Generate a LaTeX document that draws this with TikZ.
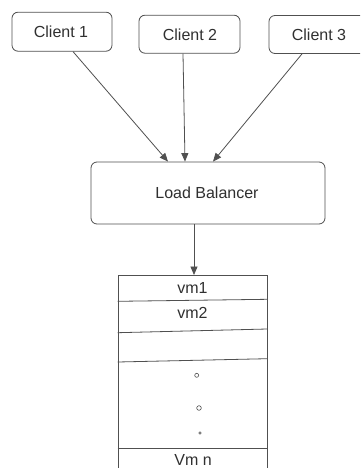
\documentclass[tikz,border=0pt]{standalone}
\usepackage{fontspec}
\setmainfont{Liberation Sans}
\usetikzlibrary{arrows.meta,calc}
\definecolor{linegray}{HTML}{505050}
\definecolor{textgray}{HTML}{303030}
\begin{document}
\begin{tikzpicture}[x=1pt,y=-1pt,
  box/.style={draw=linegray,line width=0.8pt,rounded corners=6pt,inner sep=0pt},
  lbl/.style={text=textgray,font=\fontsize{16}{18}\selectfont,inner sep=0pt},
  conn/.style={draw=linegray,line width=0.8pt,-{Triangle[length=8.5pt,width=7pt]}},
  sep/.style={draw=linegray,line width=0.8pt},
  dotc/.style={draw=linegray,line width=0.6pt}]
\useasboundingbox (0,0) rectangle (360,468);
\clip (0,0) rectangle (360,468);
\fill[white] (0,0) rectangle (360,468);
% clients
\node[box,minimum width=100pt,minimum height=39pt] (c1) at (62,31.7) {};
\node[lbl] at (61,32) {Client 1};
\node[box,minimum width=101pt,minimum height=38pt] (c2) at (189.5,34.2) {};
\node[lbl] at (190,34.5) {Client 2};
\node[box,minimum width=101pt,minimum height=38pt] (c3) at (319.5,34.5) {};
\node[lbl] at (319,34.5) {Client 3};
% load balancer
\node[box,minimum width=234pt,minimum height=62pt] (lb) at (208,193) {};
\node[lbl] at (207,193) {Load Balancer};
% stack
\node[draw=linegray,line width=0.8pt,minimum width=149pt,minimum height=210pt,inner sep=0pt,anchor=north] (st) at (192.5,275) {};
\draw[sep] (st.west |- 0,301.3) -- (st.east |- 0,299.3);
\draw[sep] (st.west |- 0,332.7) -- (st.east |- 0,329);
\draw[sep] (st.west |- 0,362) -- (st.east |- 0,358.7);
\draw[sep] (st.west |- 0,448.7) -- (st.east |- 0,448.7);
\node[lbl] (v1) at (192.5,288) {vm1};
\node[lbl] (v2) at (192.5,312.5) {vm2};
\node[lbl] (vn) at (193,460) {Vm n};
\draw[dotc] (196.7,375.3) circle (2pt);
\draw[dotc] (199,408) circle (2.3pt);
\draw[dotc] (200,433) circle (1.2pt);
% connectors
\draw[conn] ([xshift=11pt]c1.south) -- ([xshift=-40pt]lb.north);
\draw[conn] ([xshift=-6.5pt]c2.south) -- ([xshift=-23pt]lb.north);
\draw[conn] ([xshift=-17.5pt]c3.south) -- ([xshift=5pt]lb.north);
\draw[conn] ([xshift=-14pt]lb.south) -- ([xshift=-14pt]lb.south |- st.north);
\end{tikzpicture}
\end{document}
